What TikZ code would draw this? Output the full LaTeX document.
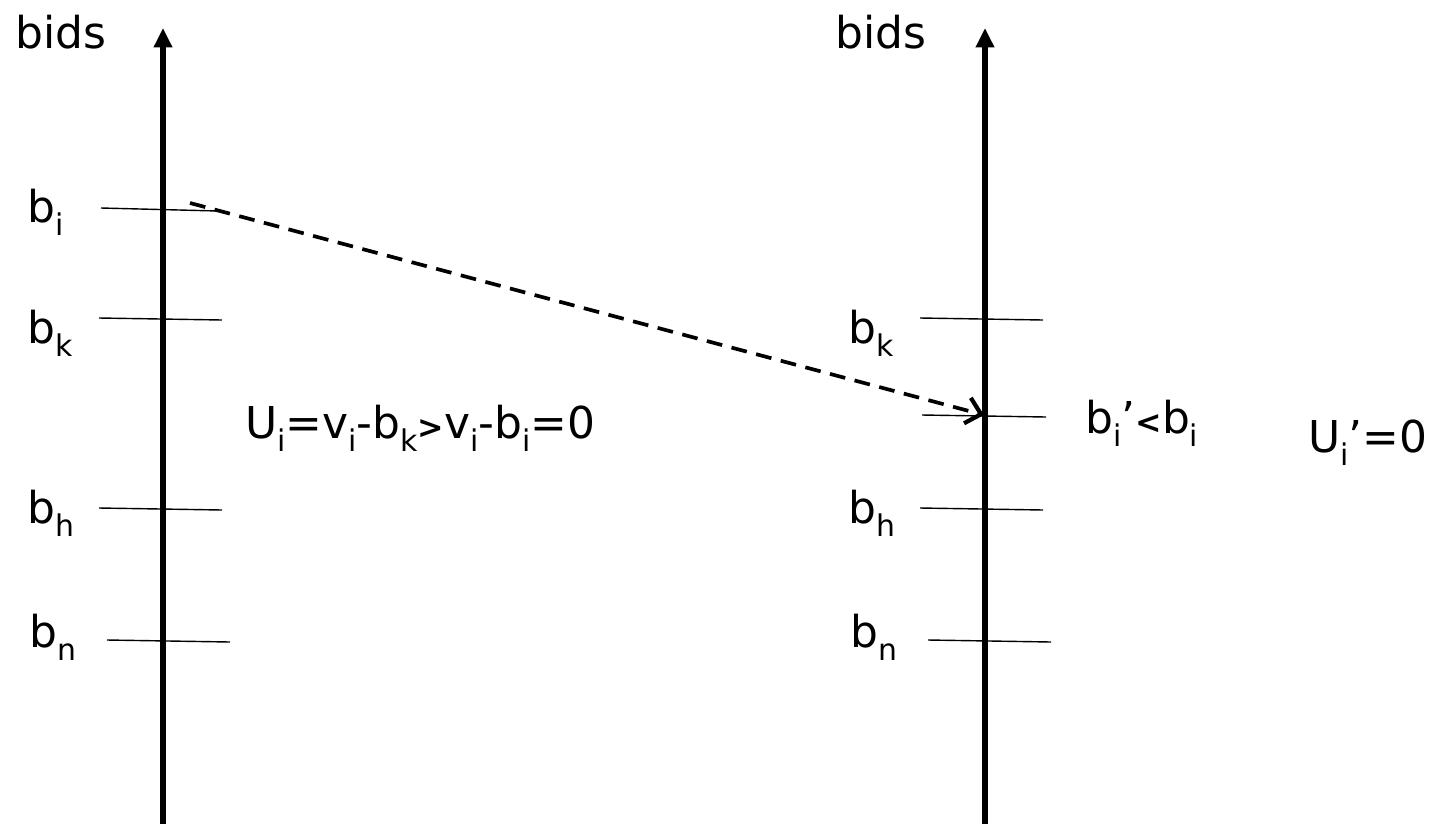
\documentclass[tikz,border=0pt]{standalone}
\usepackage{fontspec}
\setmainfont{DejaVu Sans}
\usetikzlibrary{arrows.meta, positioning}
\newcommand{\lowr}[1]{\raisebox{-0.55ex}{\fontsize{17}{20}\selectfont #1}}
\newcommand{\cmpr}[1]{{\fontsize{18}{20}\selectfont\bfseries #1}}

\begin{document}
\begin{tikzpicture}[x=0.02cm, y=-0.02cm,
    axis/.style={line width=3pt, -{Triangle[length=11pt, width=10pt]}},
    tick/.style={line width=0.8pt},
    lbl/.style={font=\fontsize{25}{30}\selectfont, inner sep=0pt, anchor=base west},
    jump/.style={line width=2.1pt, dash pattern=on 9pt off 5.5pt,
                 -{Straight Barb[length=8pt, width=15pt, line width=2.4pt]}}]
    \useasboundingbox (0,0) rectangle (1433,825);

    % left bid axis
    \coordinate (L0) at (163,824);
    \coordinate (L1) at (163,28);
    \draw[axis] (L0) -- (L1);
    \node[lbl] (bidsL) at (15,48) {bids};

    % right bid axis
    \coordinate (R0) at (985,824);
    \coordinate (R1) at (985,28);
    \draw[axis] (R0) -- (R1);
    \node[lbl] (bidsR) at (835,48) {bids};

    % ticks on the left axis
    \coordinate (Li0) at (101,208); \coordinate (Li1) at (218,211);
    \draw[tick] (Li0) -- (Li1);
    \node[lbl] (biL) at (27,222) {b\lowr{i}};
    \coordinate (Lk0) at (99,318); \coordinate (Lk1) at (222,320);
    \draw[tick] (Lk0) -- (Lk1);
    \node[lbl] (bkL) at (27,343) {b\lowr{k}};
    \coordinate (Lh0) at (99,508); \coordinate (Lh1) at (222,510);
    \draw[tick] (Lh0) -- (Lh1);
    \node[lbl] (bhL) at (27,523) {b\lowr{h}};
    \coordinate (Ln0) at (107,640); \coordinate (Ln1) at (230,642);
    \draw[tick] (Ln0) -- (Ln1);
    \node[lbl] (bnL) at (29,647) {b\lowr{n}};

    % utility with the true bid
    \node[lbl] (UL) at (245,438) {U\lowr{i}=v\lowr{i}-b\lowr{k}\cmpr{>}v\lowr{i}-b\lowr{i}=0};

    % ticks on the right axis
    \coordinate (Rk0) at (920,318); \coordinate (Rk1) at (1043,320);
    \draw[tick] (Rk0) -- (Rk1);
    \node[lbl] (bkR) at (848,343) {b\lowr{k}};
    \coordinate (Ri0) at (922,415); \coordinate (Ri1) at (1046,417);
    \draw[tick] (Ri0) -- (Ri1);
    \node[lbl] (biR) at (1085,433) {b\lowr{i}’\cmpr{<}b\lowr{i}};
    \coordinate (Rh0) at (920,508); \coordinate (Rh1) at (1043,510);
    \draw[tick] (Rh0) -- (Rh1);
    \node[lbl] (bhR) at (848,523) {b\lowr{h}};
    \coordinate (Rn0) at (928,640); \coordinate (Rn1) at (1051,642);
    \draw[tick] (Rn0) -- (Rn1);
    \node[lbl] (bnR) at (850,647) {b\lowr{n}};

    % utility with the lower bid
    \node[lbl] (UR) at (1308,452) {U\lowr{i}’=0};

    % lowering the bid
    \coordinate (from) at (190,203);
    \coordinate (to) at (984,415);
    \draw[jump] (from) -- (to);
\end{tikzpicture}
\end{document}
